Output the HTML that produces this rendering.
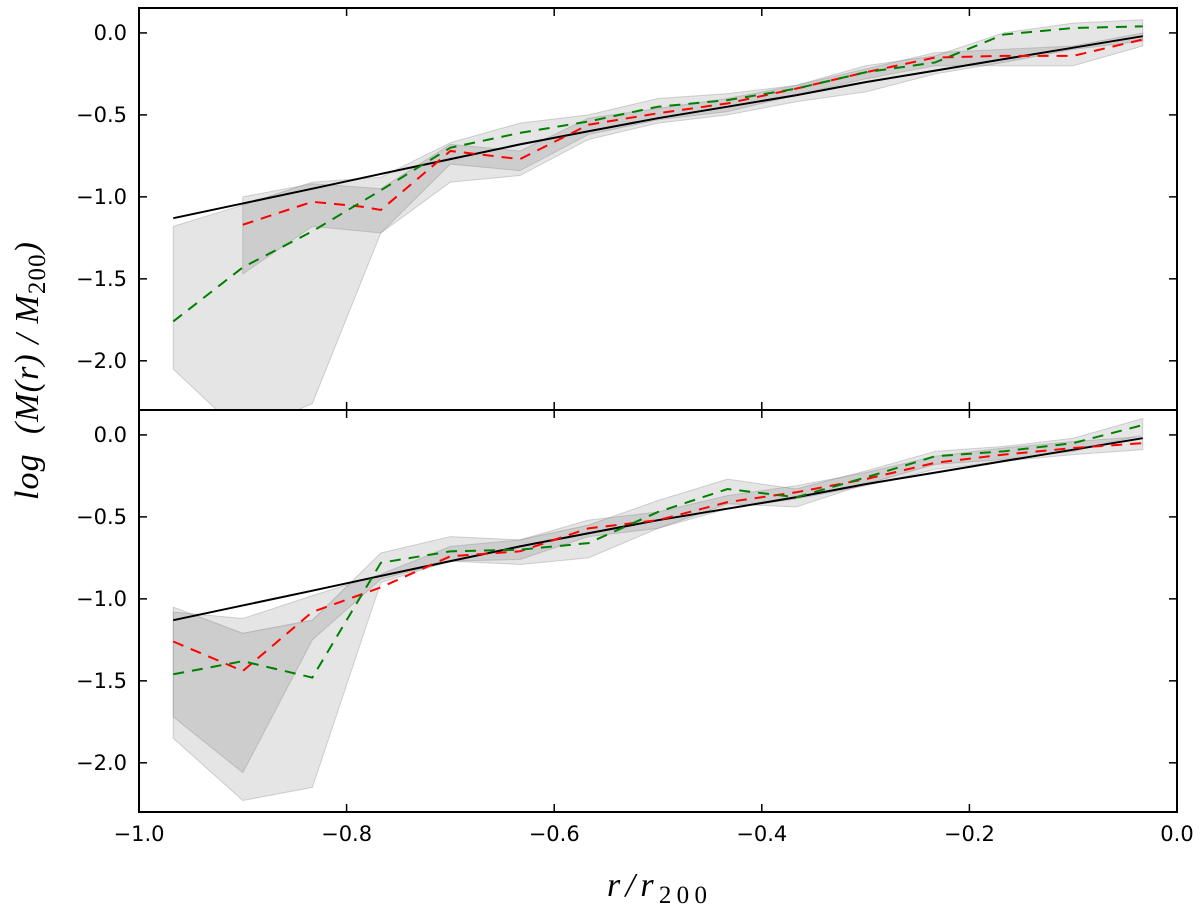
<!DOCTYPE html>
<html><head><meta charset="utf-8"><style>
body{margin:0;background:#fff}
svg{display:block}
.tk{font-family:"DejaVu Sans","Liberation Sans",sans-serif;font-size:21px;fill:#000}
</style></head><body>
<svg id="c" width="1200" height="912" xmlns="http://www.w3.org/2000/svg"></svg>
<script>
const xs=[-0.967,-0.9,-0.833,-0.767,-0.7,-0.633,-0.567,-0.5,-0.433,-0.367,-0.3,-0.233,-0.167,-0.1,-0.033];
const xTicks=[-1.0,-0.8,-0.6,-0.4,-0.2,0.0];
const xTickLabels=["\u22121.0","\u22120.8","\u22120.6","\u22120.4","\u22120.2","0.0"];
const yTicks=[0.0,-0.5,-1.0,-1.5,-2.0];
const yTickLabels=["0.0","\u22120.5","\u22121.0","\u22121.5","\u22122.0"];
const blackFit=[-1.13,-1.04,-0.95,-0.86,-0.77,-0.68,-0.6,-0.52,-0.45,-0.38,-0.30,-0.23,-0.16,-0.09,-0.02];
// top panel
const topGreen=[-1.76,-1.43,-1.21,-0.96,-0.70,-0.61,-0.54,-0.45,-0.41,-0.34,-0.24,-0.18,-0.01,0.03,0.04];
const topGreenHi=[-1.18,-1.05,-0.91,-0.88,-0.67,-0.55,-0.5,-0.4,-0.37,-0.32,-0.2,-0.14,0.0,0.06,0.08];
const topGreenLo=[-2.05,-2.45,-2.26,-1.22,-0.91,-0.87,-0.65,-0.55,-0.5,-0.42,-0.36,-0.25,-0.18,-0.1,-0.05];
const topRedX=[-0.9,-0.833,-0.785,-0.767,-0.7,-0.633,-0.567,-0.5,-0.433,-0.367,-0.3,-0.233,-0.167,-0.1,-0.033];
const topRed=[-1.17,-1.03,-1.06,-1.08,-0.72,-0.77,-0.56,-0.49,-0.43,-0.34,-0.24,-0.15,-0.14,-0.14,-0.04];
const topRedHiX=[-0.9,-0.833,-0.767,-0.7,-0.633,-0.567,-0.5,-0.433,-0.367,-0.3,-0.233,-0.167,-0.1,-0.033];
const topRedHi=[-1.0,-0.92,-0.95,-0.68,-0.72,-0.52,-0.46,-0.40,-0.32,-0.22,-0.12,-0.1,-0.08,0.0];
const topRedLo=[-1.47,-1.18,-1.22,-0.8,-0.84,-0.62,-0.53,-0.48,-0.38,-0.28,-0.2,-0.2,-0.2,-0.08];
// bottom panel
const botGreen=[-1.46,-1.38,-1.48,-0.78,-0.71,-0.70,-0.66,-0.47,-0.33,-0.38,-0.26,-0.13,-0.1,-0.05,0.06];
const botGreenHi=[-1.05,-1.21,-1.13,-0.72,-0.62,-0.64,-0.55,-0.4,-0.27,-0.33,-0.22,-0.1,-0.07,-0.02,0.1];
const botGreenLo=[-1.85,-2.23,-2.15,-0.9,-0.77,-0.79,-0.75,-0.57,-0.42,-0.44,-0.3,-0.18,-0.15,-0.1,0.0];
const botRed=[-1.26,-1.44,-1.08,-0.93,-0.74,-0.71,-0.57,-0.52,-0.41,-0.35,-0.27,-0.17,-0.12,-0.08,-0.05];
const botRedHi=[-1.08,-1.12,-0.98,-0.85,-0.68,-0.64,-0.52,-0.47,-0.37,-0.31,-0.23,-0.13,-0.08,-0.04,-0.01];
const botRedLo=[-1.72,-2.06,-1.25,-0.88,-0.77,-0.76,-0.62,-0.57,-0.45,-0.39,-0.31,-0.21,-0.16,-0.12,-0.09];

const svg=document.getElementById('c');
const NS='http://www.w3.org/2000/svg';
const X0=139,X1=1177;
const sx=v=>X0+(v+1)*(X1-X0);
const yMin=-2.3,yMax=0.152;
function mk(tag,attrs,parent){const e=document.createElementNS(NS,tag);for(const k in attrs)e.setAttribute(k,attrs[k]);(parent||svg).appendChild(e);return e;}
function panel(top,bot,name,d){
  const sy=v=>top+(yMax-v)/(yMax-yMin)*(bot-top);
  const g=mk('g',{});
  
  
  const cid='clip-'+name;
  const cp=mk('clipPath',{id:cid},g);mk('rect',{x:X0,y:top,width:X1-X0,height:bot-top},cp);
  const pg=mk('g',{'clip-path':'url(#'+cid+')'},g);
  function band(xh,hi,xl,lo,nm){
    let pts=xh.map((x,i)=>sx(x)+','+sy(hi[i]));
    for(let i=lo.length-1;i>=0;i--)pts.push(sx(xl[i])+','+sy(lo[i]));
    const p=mk('polygon',{points:pts.join(' '),fill:'#000','fill-opacity':0.1,stroke:'#888','stroke-opacity':0.35,'stroke-width':1},pg);
    
    
  }
  function line(x,y,col,dash,nm){
    const p=mk('polyline',{points:x.map((v,i)=>sx(v)+','+sy(y[i])).join(' '),fill:'none',stroke:col,'stroke-width':2,'stroke-dasharray':dash||'none'},pg);
    
    
  }
  band(xs,d.gHi,xs,d.gLo,'green-band');
  band(d.rHx,d.rHi,d.rHx,d.rLo,'red-band');
  line(xs,blackFit,'#000',null,'fit-line');
  line(d.rx,d.r,'#ff0000','11,8','red-series');
  line(xs,d.g,'#008000','11,8','green-series');
  mk('rect',{x:X0,y:top,width:X1-X0,height:bot-top,fill:'none',stroke:'#000','stroke-width':2},g);
  yTicks.forEach((t,i)=>{const y=sy(t);
    mk('line',{x1:X0,x2:X0+8,y1:y,y2:y,stroke:'#000','stroke-width':1.5},g);
    mk('line',{x1:X1,x2:X1-8,y1:y,y2:y,stroke:'#000','stroke-width':1.5},g);
    const tx=mk('text',{x:X0-12,y:y+7,'text-anchor':'end',class:'tk'},g);tx.textContent=yTickLabels[i];
    
    
  });
  xTicks.forEach(t=>{const x=sx(t);
    mk('line',{x1:x,x2:x,y1:bot,y2:bot-8,stroke:'#000','stroke-width':1.5},g);
    mk('line',{x1:x,x2:x,y1:top,y2:top+8,stroke:'#000','stroke-width':1.5},g);
  });
}
panel(8,410,'top-panel',{g:topGreen,gHi:topGreenHi,gLo:topGreenLo,rx:topRedX,r:topRed,rHx:topRedHiX,rHi:topRedHi,rLo:topRedLo});
panel(410,812,'bottom-panel',{g:botGreen,gHi:botGreenHi,gLo:botGreenLo,rx:xs,r:botRed,rHx:xs,rHi:botRedHi,rLo:botRedLo});
xTicks.forEach((t,i)=>{
  const tx=mk('text',{x:sx(t),y:841,'text-anchor':'middle',class:'tk'});tx.textContent=xTickLabels[i];
  
  
});
const xl=mk('text',{x:607,y:896,'font-family':'Liberation Serif,serif','font-style':'italic','font-size':34,textLength:100,lengthAdjust:'spacing'});
xl.innerHTML='r/r<tspan font-style="normal" font-size="25" dy="7">200</tspan>';


const yl=mk('text',{x:0,y:0,'font-family':'Liberation Serif,serif','font-style':'italic','font-size':34,textLength:258,lengthAdjust:'spacing',transform:'translate(38,500) rotate(-90)'});
yl.innerHTML='log&#160;&#160;(M(r)&#160;/&#160;M<tspan font-style="normal" font-size="25" dy="7">200</tspan><tspan dy="-7">)</tspan>';


</script>
</body></html>
